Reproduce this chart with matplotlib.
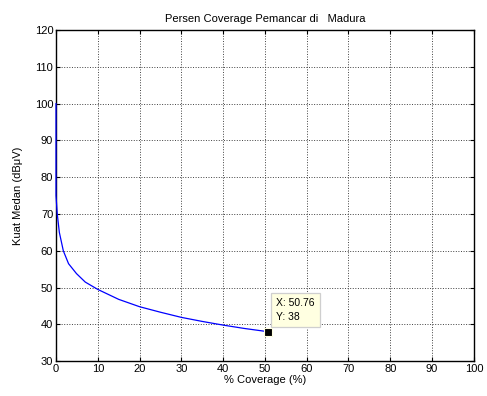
import matplotlib
matplotlib.use("Agg")
import matplotlib.pyplot as plt

plt.rcParams['font.family'] = ['Liberation Sans', 'DejaVu Sans']

# coverage (%) vs field strength (dBuV)
coverage = [0, 0, 0.3, 0.8, 1.75, 3.0, 4.9, 7.0, 10, 15, 20, 25, 30, 35, 40, 45, 50.76]
kuat_medan = [100, 75, 70, 65, 60, 56.5, 53.8, 51.5, 49.5, 46.8, 44.8, 43.3, 41.9, 40.8, 39.8, 38.9, 38]

tip_x = 50.76
tip_y = 38

xticks = list(range(0, 101, 10))
yticks = list(range(30, 121, 10))

fig = plt.figure(figsize=(4.87, 3.96), dpi=100)
ax = fig.add_axes([0.115, 0.088, 0.858, 0.836])

ax.plot(coverage, kuat_medan, color='#0000ff', linewidth=0.9, clip_on=False, zorder=3)
ax.plot([tip_x], [tip_y], marker='s', markersize=6, color='black',
        markeredgecolor='#ffffe1', markeredgewidth=0.8, linestyle='none', zorder=4)
ax.annotate("X: %.2f\nY: %g" % (tip_x, tip_y), xy=(tip_x, tip_y),
            xytext=(6, 7), textcoords='offset points', fontsize=7.5,
            va='bottom', ha='left', linespacing=1.45,
            bbox=dict(boxstyle='square,pad=0.5', fc='#ffffe1', ec='#cfcfcf', lw=0.9))

ax.set_xlim(0, 100)
ax.set_ylim(30, 120)
ax.set_xticks(xticks)
ax.set_yticks(yticks)
ax.tick_params(direction='in', top=True, right=True, labelsize=8, length=3, width=0.8, pad=2)
ax.grid(True, linestyle=':', color='0.25', linewidth=0.7)
for s in ax.spines.values():
    s.set_linewidth(1.0)

ax.set_title("Persen Coverage Pemancar di   Madura", fontsize=8, pad=6)
ax.set_xlabel("% Coverage (%)", fontsize=8, labelpad=1)
ax.set_ylabel("Kuat Medan (dBμV)", fontsize=8, labelpad=8)

fig.savefig("out.png", dpi=100)
